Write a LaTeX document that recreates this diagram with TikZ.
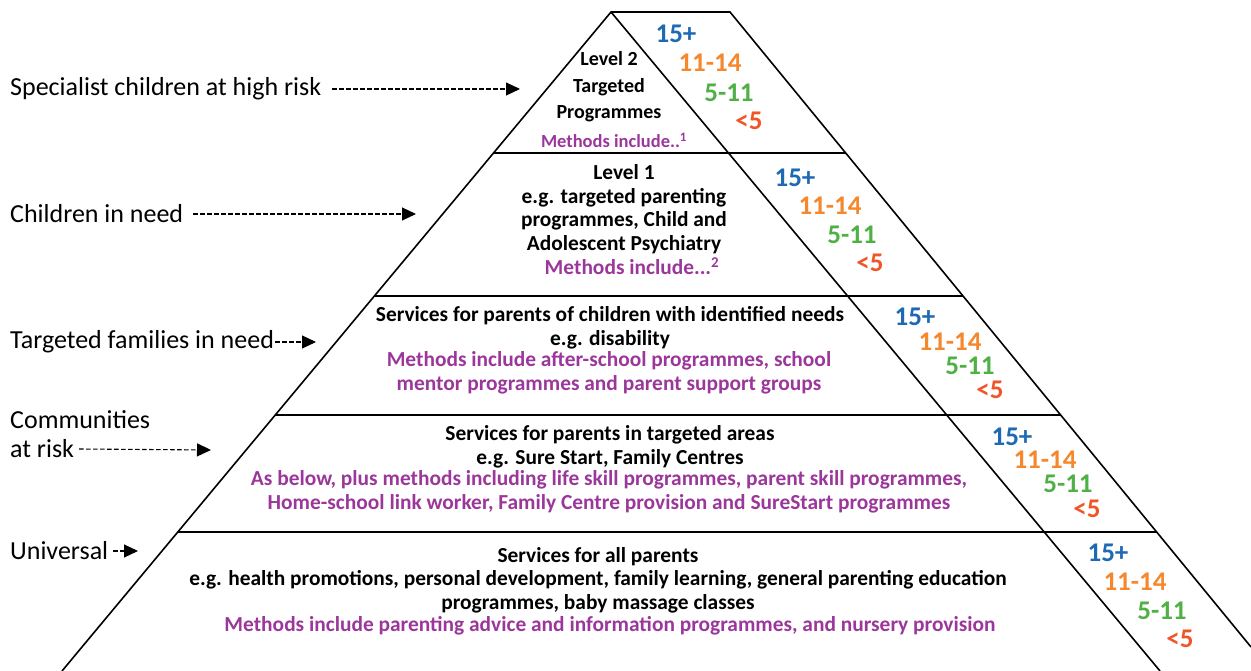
\documentclass[tikz,border=0pt]{standalone}
\usepackage{fontspec}
\setmainfont{Carlito}
\usetikzlibrary{arrows.meta}

\definecolor{ageblue}{RGB}{30,105,180}
\definecolor{ageorange}{RGB}{245,135,45}
\definecolor{agegreen}{RGB}{80,176,70}
\definecolor{agered}{RGB}{240,85,40}
\definecolor{methodpurple}{RGB}{155,55,155}

\tikzset{
  sidelabel/.style={anchor=west, inner sep=0pt, font=\fontsize{26}{29}\selectfont},
  lvltext/.style={align=center, inner sep=0pt, font=\bfseries\fontsize{21.4}{23.5}\selectfont},
  methodtext/.style={lvltext, text=methodpurple},
  agelabel/.style={inner sep=0pt, font=\bfseries\fontsize{27}{27}\selectfont},
  pointer/.style={line width=1.1pt, dash pattern=on 4.5pt off 2.5pt, -{Triangle[length=14pt,width=13pt]}},
  edge/.style={line width=1.6pt},
}

\begin{document}
\begin{tikzpicture}[x=1pt,y=1pt,yscale=-1]
\useasboundingbox (0,0) rectangle (1251,671);

%Shape: Pyramid
\draw [edge] (62,671) -- (611,12) -- (1160,671) ;
%Straight Lines: outer edge of age band
\draw [edge] (611,12) -- (730,12) -- (1251,647) ;
%Straight Lines: level dividers
\draw [edge] (493.5,153) -- (845.6,153) ;
\draw [edge] (374.4,296) -- (962.9,296) ;
\draw [edge] (275.3,415) -- (1060.5,415) ;
\draw [edge] (177.8,532) -- (1156.4,532) ;

% Side labels and pointers
\node [sidelabel] (specialist) at (10,89) {Specialist children at high risk};
\coordinate (specialistTip) at (520,89);
\draw [pointer] ([xshift=11pt]specialist.east) -- (specialistTip) ;

\node [sidelabel] (inneed) at (10,214) {Children in need};
\coordinate (inneedTip) at (416,214);
\draw [pointer] ([xshift=10pt]inneed.east) -- (inneedTip) ;

\node [sidelabel] (families) at (10,342) {Targeted families in need};
\coordinate (familiesTip) at (316,342);
\draw [pointer] ([xshift=1pt]families.east) -- (familiesTip) ;

\node [sidelabel] (communities) at (10,420) {Communities};
\node [sidelabel] (atrisk) at (10,449) {at risk};
\coordinate (atriskTip) at (211,450);
\draw [pointer] ([xshift=5pt]atrisk.east) -- (atriskTip) ;

\node [sidelabel] (universal) at (10,551) {Universal};
\coordinate (universalTip) at (138,551);
\draw [pointer] ([xshift=5pt]universal.east) -- (universalTip) ;

% Text Node: level 2
\node [lvltext, font=\bfseries\fontsize{20}{26.5}\selectfont] (levelTwo) at (609,87) {Level 2\\Targeted\\Programmes};
\node [methodtext, font=\bfseries\fontsize{18.5}{20}\selectfont] (methodsTwo) at (614,140) {Methods include..\textsuperscript{1}};

% Text Node: level 1
\node [lvltext] (levelOne) at (624,209) {Level 1\\e.g. targeted parenting\\programmes, Child and\\Adolescent Psychiatry};
\node [methodtext] (methodsOne) at (632,266) {Methods include...\textsuperscript{2}};

% Text Node: identified needs
\node [lvltext] (identified) at (610,328) {Services for parents of children with identified needs\\e.g. disability};
\node [methodtext] (methodsIdent) at (609,373) {Methods include after-school programmes, school\\mentor programmes and parent support groups};

% Text Node: targeted areas
\node [lvltext] (areas) at (610,447) {Services for parents in targeted areas\\e.g. Sure Start, Family Centres};
\node [methodtext] (methodsAreas) at (609,492) {As below, plus methods including life skill programmes, parent skill programmes,\\Home-school link worker, Family Centre provision and SureStart programmes};

% Text Node: all parents
\node [lvltext] (allparents) at (598,580) {Services for all parents\\e.g. health promotions, personal development, family learning, general parenting education\\programmes, baby massage classes};
\node [methodtext] (methodsAll) at (610,626) {Methods include parenting advice and information programmes, and nursery provision};

% Text Node: age bands
\node [agelabel, text=ageblue] (ageA1) at (676,34) {15+};
\node [agelabel, text=ageorange] (ageA2) at (710,63) {11-14};
\node [agelabel, text=agegreen] (ageA3) at (729,93) {5-11};
\node [agelabel, text=agered] (ageA4) at (749,121) {<5};

\node [agelabel, text=ageblue] (ageB1) at (795,178) {15+};
\node [agelabel, text=ageorange] (ageB2) at (830,206) {11-14};
\node [agelabel, text=agegreen] (ageB3) at (852,235) {5-11};
\node [agelabel, text=agered] (ageB4) at (870,263) {<5};

\node [agelabel, text=ageblue] (ageC1) at (915,317) {15+};
\node [agelabel, text=ageorange] (ageC2) at (950,342) {11-14};
\node [agelabel, text=agegreen] (ageC3) at (970,366) {5-11};
\node [agelabel, text=agered] (ageC4) at (990,390) {<5};

\node [agelabel, text=ageblue] (ageD1) at (1012,437) {15+};
\node [agelabel, text=ageorange] (ageD2) at (1045,460) {11-14};
\node [agelabel, text=agegreen] (ageD3) at (1068,484) {5-11};
\node [agelabel, text=agered] (ageD4) at (1087,509) {<5};

\node [agelabel, text=ageblue] (ageE1) at (1108,553) {15+};
\node [agelabel, text=ageorange] (ageE2) at (1135,582) {11-14};
\node [agelabel, text=agegreen] (ageE3) at (1162,611) {5-11};
\node [agelabel, text=agered] (ageE4) at (1180,639) {<5};

\end{tikzpicture}
\end{document}
